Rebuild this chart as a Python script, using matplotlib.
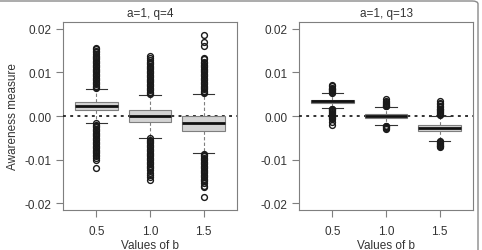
import matplotlib
matplotlib.use("Agg")
import matplotlib.pyplot as plt
from matplotlib.patches import FancyBboxPatch

plt.rcParams['font.family'] = ['Liberation Sans', 'DejaVu Sans']

b_labels = ['0.5', '1.0', '1.5']
titles = ['a=1, q=4', 'a=1, q=13']

# box statistics: (q1, median, q3, lower whisker, upper whisker)
q4_stats = [
    (0.00138, 0.0024, 0.00331, -0.0015, 0.0063),
    (-0.0013, 0.0000, 0.0013, -0.0050, 0.0048),
    (-0.0034, -0.0017, 0.0000, -0.0086, 0.0050),
]
q13_stats = [
    (0.0031, 0.0034, 0.0037, 0.0018, 0.0052),
    (-0.0005, 0.0000, 0.0005, -0.0020, 0.0020),
    (-0.0035, -0.0028, -0.0021, -0.0057, 0.0001),
]

# outliers (estimated, dense runs typed as close steps)
q4_out_05 = [0.0064, 0.0067, 0.0070, 0.0073, 0.0076, 0.0079, 0.0082, 0.0085, 0.0088,
             0.0091, 0.0094, 0.0097, 0.0100, 0.0103, 0.0106, 0.0109, 0.0112, 0.0115,
             0.0118, 0.0121, 0.0124, 0.0127, 0.0130, 0.0133, 0.0136, 0.0139, 0.0142,
             0.0146, 0.0150, 0.0153, 0.0157,
             -0.0017, -0.0020, -0.0023, -0.0026, -0.0029, -0.0032, -0.0035, -0.0038,
             -0.0041, -0.0044, -0.0047, -0.0050, -0.0053, -0.0056, -0.0059, -0.0062,
             -0.0065, -0.0068, -0.0071, -0.0074, -0.0077, -0.0080, -0.0083, -0.0086,
             -0.0089, -0.0093, -0.0097, -0.0100, -0.0120]
q4_out_10 = [0.0050, 0.0053, 0.0056, 0.0059, 0.0062, 0.0065, 0.0068, 0.0071, 0.0074,
             0.0077, 0.0080, 0.0083, 0.0086, 0.0089, 0.0092, 0.0095, 0.0098, 0.0101,
             0.0104, 0.0107, 0.0110, 0.0113, 0.0116, 0.0119, 0.0122, 0.0125, 0.0129,
             0.0133, 0.0138,
             -0.0051, -0.0054, -0.0057, -0.0060, -0.0063, -0.0066, -0.0069, -0.0072,
             -0.0075, -0.0078, -0.0081, -0.0084, -0.0087, -0.0090, -0.0093, -0.0096,
             -0.0099, -0.0102, -0.0105, -0.0108, -0.0111, -0.0114, -0.0117, -0.0120,
             -0.0125, -0.0130, -0.0135, -0.0141, -0.0146]
q4_out_15 = [0.0052, 0.0055, 0.0058, 0.0061, 0.0064, 0.0067, 0.0070, 0.0073, 0.0076,
             0.0079, 0.0082, 0.0085, 0.0088, 0.0091, 0.0094, 0.0097, 0.0100, 0.0103,
             0.0106, 0.0109, 0.0112, 0.0115, 0.0118, 0.0121, 0.0125, 0.0130, 0.0134,
             0.0161, 0.0169, 0.0186,
             -0.0087, -0.0090, -0.0093, -0.0096, -0.0099, -0.0102, -0.0105, -0.0108,
             -0.0111, -0.0114, -0.0117, -0.0120, -0.0123, -0.0126, -0.0129, -0.0132,
             -0.0135, -0.0138, -0.0141, -0.0144, -0.0147, -0.0150, -0.0155, -0.0160,
             -0.0164, -0.0185]
q13_out_05 = [0.0053, 0.0055, 0.0057, 0.0059, 0.0061, 0.0063, 0.0065, 0.0068, 0.0071,
              0.0017, 0.0015, 0.0013, 0.0011, 0.0009, 0.0007, 0.0005, 0.0003, 0.0001,
              -0.0001, -0.0003, -0.0005, -0.0008, -0.0013, -0.0020]
q13_out_10 = [0.0022, 0.0024, 0.0026, 0.0028, 0.0030, 0.0032, 0.0035, 0.0038,
              -0.0022, -0.0024, -0.0026, -0.0028, -0.0031]
q13_out_15 = [0.0003, 0.0005, 0.0007, 0.0009, 0.0011, 0.0013, 0.0015, 0.0017, 0.0020,
              0.0024, 0.0028, 0.0031, 0.0035,
              -0.0058, -0.0060, -0.0062, -0.0064, -0.0066, -0.0068, -0.0070, -0.0072]

panels = [
    (titles[0], q4_stats, [q4_out_05, q4_out_10, q4_out_15]),
    (titles[1], q13_stats, [q13_out_05, q13_out_10, q13_out_15]),
]

W, H = 482, 251
fig = plt.figure(figsize=(W / 100, H / 100), dpi=100)

# rounded frame round the whole figure (only top and right visible)
frame = FancyBboxPatch((-20 / W, -20 / H), (478 + 20) / W, (249 + 20) / H,
                       boxstyle="round,pad=0,rounding_size=0.012",
                       transform=fig.transFigure, fill=False,
                       edgecolor='#8a8a8a', linewidth=1.0)
fig.patches.append(frame)

gray = '#7f7f7f'
txt = '#333333'
fs = 8.5
lefts = [63, 299]

for k, (title, stats, outs) in enumerate(panels):
    ax = fig.add_axes([lefts[k] / W, 40 / H, 174 / W, 188 / H])
    bxp_stats = []
    for (q1, med, q3, lo, hi), fl in zip(stats, outs):
        bxp_stats.append(dict(q1=q1, med=med, q3=q3, whislo=lo, whishi=hi, fliers=fl))
    ax.axhline(0, color='#222222', linestyle=(0, (1.6, 2.4)), linewidth=1.3, zorder=3)
    ax.bxp(bxp_stats, positions=[1, 2, 3], widths=0.8, patch_artist=True,
           boxprops=dict(facecolor='#d3d3d3', edgecolor=gray, linewidth=0.8),
           medianprops=dict(color='#111111', linewidth=2.0),
           whiskerprops=dict(color=gray, linestyle=(0, (3, 2)), linewidth=0.8),
           capprops=dict(color='#333333', linewidth=0.8),
           capwidths=0.4,
           flierprops=dict(marker='o', markersize=4.2, markerfacecolor='none',
                           markeredgecolor='#1a1a1a', markeredgewidth=1.0),
           zorder=4)
    ax.set_xlim(0.38, 3.62)
    ax.set_ylim(-0.0216, 0.0216)
    ax.set_xticks([1, 2, 3])
    ax.set_xticklabels(b_labels)
    ax.set_yticks([-0.02, -0.01, 0.0, 0.01, 0.02])
    ax.set_yticklabels(['-0.02', '-0.01', '0.00', '0.01', '0.02'])
    for s in ax.spines.values():
        s.set_color(gray)
        s.set_linewidth(0.8)
    ax.tick_params(colors=gray, labelcolor=txt, labelsize=fs, length=5, width=0.8)
    ax.tick_params(axis='x', pad=6)
    ax.set_title(title, fontsize=fs, color=txt, pad=4)
    ax.set_xlabel('Values of b', fontsize=fs, color=txt, labelpad=1)
    if k == 0:
        ax.set_ylabel('Awareness measure', fontsize=fs, color=txt, labelpad=4)

fig.savefig('out.png', dpi=100)
